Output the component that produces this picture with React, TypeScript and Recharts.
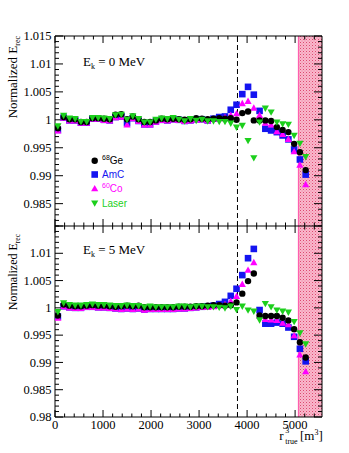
import { ScatterChart, Scatter, XAxis, YAxis, ReferenceLine, ReferenceArea } from 'recharts'

// bin centres in r^3 [m^3]
const binCenters = [
  60, 180, 300, 420, 540, 660, 780, 900, 1020, 1140,
  1260, 1380, 1500, 1620, 1740, 1860, 1980, 2100, 2220, 2340,
  2460, 2580, 2700, 2820, 2940, 3060, 3180, 3300, 3420, 3540,
  3660, 3780, 3900, 4020, 4140, 4260, 4380, 4500, 4620, 4740,
  4860, 4980, 5100, 5220,
]

// Ek = 0 MeV
const ge0 = [
  0.9985, 1.0005, 1.0001, 1.0001, 0.9996, 0.9996, 1.0003, 1.0003, 1.0002, 1.0001,
  1.0009, 1.001, 1.0001, 1.0006, 1.0001, 0.9996, 0.9996, 0.9999, 1.0002, 1.0001,
  1.0002, 1.0001, 1.0, 1.0001, 1.0003, 1.0002, 1.0001, 1.0002, 1.0003, 1.0002,
  1.0003, 1.0, 1.0012, 1.0015, 0.9999, 0.9999, 0.9999, 0.9998, 0.9987, 0.9982,
  0.9978, 0.9957, 0.9942, 0.991,
]
const amc0 = [
  0.9982, 1.0004, 0.9999, 0.9999, 0.9995, 0.9995, 1.0002, 1.0002, 1.0, 0.9999,
  1.0005, 1.0006, 0.9994, 1.0003, 0.9998, 0.9992, 0.9992, 0.9997, 1.0, 0.9999,
  1.0001, 1.0, 0.9998, 0.9999, 1.0001, 1.0001, 0.9999, 1.0002, 1.0005, 1.0006,
  1.0018, 1.0027, 1.0046, 1.0059, 1.0045, 1.0016, 0.9984, 0.9981, 0.9978, 0.9972,
  0.9965, 0.9947, 0.9929, 0.9902,
]
const co0 = [
  0.998, 1.0003, 0.9998, 0.9998, 0.9994, 0.9994, 1.0001, 1.0001, 0.9999, 0.9998,
  1.0004, 1.0005, 0.9991, 1.0002, 0.9997, 0.9991, 0.9991, 0.9996, 0.9999, 0.9998,
  1.0, 0.9999, 0.9997, 0.9998, 1.0, 1.0, 0.9998, 1.0001, 1.0002, 1.0004,
  1.0008, 1.0011, 1.0029, 1.0033, 1.0021, 1.0008, 0.9994, 0.9991, 0.9979, 0.9974,
  0.9965, 0.9943, 0.9919, 0.9884,
]
const laser0 = [
  0.9989, 1.0008, 1.0003, 1.0002, 0.9997, 0.9997, 1.0004, 1.0004, 1.0003, 1.0002,
  1.0009, 1.001, 1.0001, 1.0007, 1.0002, 0.9996, 0.9996, 1.0001, 1.0003, 1.0002,
  1.0004, 1.0001, 0.9998, 1.0002, 0.9999, 1.0001, 0.9998, 0.9998, 0.9997, 0.9997,
  0.9994, 0.9987, 0.999, 0.9963, 0.9932, 0.9996, 1.0021, 1.0014, 0.9996, 0.9993,
  0.9992, 0.9972, 0.9958, 0.9934,
]

// Ek = 5 MeV
const ge5 = [
  0.9986, 1.0006, 1.0004, 1.0003, 1.0003, 1.0004, 1.0005, 1.0004, 1.0004, 1.0003,
  1.0002, 1.0003, 1.0004, 1.0003, 1.0004, 1.0001, 1.0001, 1.0001, 1.0001, 1.0001,
  1.0001, 1.0002, 1.0002, 1.0002, 1.0003, 1.0003, 1.0004, 1.0005, 1.0005, 1.0004,
  1.0005, 1.001, 1.0026, 1.0049, 1.0063, 0.9986, 0.9985, 0.9985, 0.9985, 0.9982,
  0.9977, 0.9961, 0.9937, 0.9909,
]
const amc5 = [
  0.9984, 1.0003, 1.0001, 1.0, 1.0, 1.0002, 1.0002, 1.0001, 1.0001, 1.0,
  0.9999, 0.9998, 0.9999, 0.9998, 0.9999, 0.9997, 0.9998, 0.9998, 0.9998, 0.9998,
  0.9998, 0.9999, 0.9999, 1.0, 1.0001, 1.0002, 1.0003, 1.0004, 1.0007, 1.0011,
  1.0022, 1.0035, 1.006, 1.0091, 1.0108, 0.9996, 0.9971, 0.9971, 0.9973, 0.9971,
  0.9964, 0.9947, 0.9925, 0.9902,
]
const co5 = [
  0.9981, 1.0002, 1.0, 0.9999, 0.9999, 1.0001, 1.0001, 1.0, 1.0, 0.9999,
  0.9998, 0.9997, 0.9998, 0.9997, 0.9998, 0.9996, 0.9997, 0.9997, 0.9997, 0.9997,
  0.9997, 0.9998, 0.9998, 0.9999, 1.0, 1.0001, 1.0001, 1.0002, 1.0004, 1.0006,
  1.0012, 1.0021, 1.0043, 1.0069, 1.0083, 0.9985, 0.9979, 0.9978, 0.9977, 0.9972,
  0.9969, 0.9949, 0.9914, 0.9883,
]
const laser5 = [
  0.9993, 1.0009, 1.0006, 1.0005, 1.0005, 1.0006, 1.0007, 1.0006, 1.0006, 1.0005,
  1.0004, 1.0004, 1.0005, 1.0004, 1.0004, 1.0002, 1.0003, 1.0002, 1.0002, 1.0002,
  1.0002, 1.0003, 1.0003, 1.0002, 1.0003, 1.0003, 1.0002, 1.0002, 1.0001, 1.0,
  1.0003, 0.9997, 1.0003, 0.9996, 0.9994, 0.9978, 1.0008, 1.0002, 0.9996, 0.9994,
  0.9992, 0.9975, 0.9954, 0.9934,
]

const xLabels = [0, 1000, 2000, 3000, 4000, 5000]
const yLabelsTop = [0.985, 0.99, 0.995, 1, 1.005, 1.01, 1.015]
const yLabelsBottom = [0.98, 0.985, 0.99, 0.995, 1, 1.005, 1.01]

const X_MAX = 5560
const Y_MAX = 1.015
const FV_START = 5070
const FV_CUT = 3800

const CHART_W = 349
const MARGIN_L = 5
const MARGIN_R = 27
const Y_AXIS_W = 50
const PLOT_W = CHART_W - MARGIN_L - MARGIN_R - Y_AXIS_W

const GE_COLOR = '#000000'
const AMC_COLOR = '#1414f0'
const CO_COLOR = '#ff00ff'
const LASER_COLOR = '#1ccf1c'
const SERIF = '"Liberation Serif", "Times New Roman", serif'
const SANS = '"Liberation Sans", Arial, sans-serif'

const xTicks = Array.from({ length: 28 }, (_, k) => k * 200)
const yTicksFrom = (lo: number) =>
  Array.from({ length: Math.round((Y_MAX - lo) * 1000) + 1 }, (_, k) => Math.round((lo + k * 0.001) * 10000) / 10000)
const isMajorY = (v: number) => Math.abs(v * 200 - Math.round(v * 200)) < 1e-6

const toPoints = (vals: number[]) => binCenters.map((x, i) => ({ x, y: vals[i] }))

const circleShape = (p: any) => <circle cx={p.cx} cy={p.cy} r={3.2} fill={GE_COLOR} />
const squareShape = (p: any) => <rect x={p.cx - 3.3} y={p.cy - 3.3} width={6.6} height={6.6} fill={AMC_COLOR} />
const upShape = (p: any) => (
  <polygon points={`${p.cx},${p.cy - 3.8} ${p.cx + 3.6},${p.cy + 2.6} ${p.cx - 3.6},${p.cy + 2.6}`} fill={CO_COLOR} />
)
const downShape = (p: any) => (
  <polygon points={`${p.cx},${p.cy + 3.8} ${p.cx + 3.6},${p.cy - 2.6} ${p.cx - 3.6},${p.cy - 2.6}`} fill={LASER_COLOR} />
)

const xLabelTick = (withLabels: boolean) => (props: any) => {
  const { x, y, payload } = props
  const v = payload.value
  if (!withLabels || !xLabels.includes(v)) return <g />
  return (
    <text x={x} y={y + 12} textAnchor="middle" fontFamily={SERIF} fontSize={12.5} fill="#000">
      {v}
    </text>
  )
}

const yLabelTick = (labels: number[]) => (props: any) => {
  const { x, y, payload } = props
  const v = payload.value
  if (!labels.some((l) => Math.abs(l - v) < 1e-6)) return <g />
  return (
    <text x={x - 3.5} y={y + 4.2} textAnchor="end" fontFamily={SERIF} fontSize={12.5} fill="#000">
      {String(v)}
    </text>
  )
}

interface PanelProps {
  id: string
  ge: number[]
  amc: number[]
  co: number[]
  laser: number[]
  yLo: number
  yLabels: number[]
  showX: boolean
  height: number
  marginTop: number
  marginBottom: number
}

function Panel({ id, ge, amc, co, laser, yLo, yLabels, showX, height, marginTop, marginBottom }: PanelProps) {
  const yTicks = yTicksFrom(yLo)
  const xAxisH = showX ? 30 : 0
  const plotH = height - marginTop - marginBottom - xAxisH
  const dxPx = X_MAX / PLOT_W
  const dyPx = (Y_MAX - yLo) / plotH

  // inward tick marks on all four sides of the frame
  const tickMarks: { key: string; seg: { x: number; y: number }[] }[] = []
  xTicks.forEach((v) => {
    const len = (v % 1000 === 0 ? 7 : 3.5) * dyPx
    tickMarks.push({ key: `xb${v}`, seg: [{ x: v, y: yLo }, { x: v, y: yLo + len }] })
    tickMarks.push({ key: `xt${v}`, seg: [{ x: v, y: Y_MAX }, { x: v, y: Y_MAX - len }] })
  })
  yTicks.forEach((v) => {
    const len = (isMajorY(v) ? 8 : 4) * dxPx
    tickMarks.push({ key: `yl${v}`, seg: [{ x: 0, y: v }, { x: len, y: v }] })
    tickMarks.push({ key: `yr${v}`, seg: [{ x: X_MAX, y: v }, { x: X_MAX - len, y: v }] })
  })

  return (
    <ScatterChart
      width={CHART_W}
      height={height}
      margin={{ top: marginTop, right: MARGIN_R, bottom: marginBottom, left: MARGIN_L }}
    >
      <defs>
        <pattern id={id} width={3} height={3} patternUnits="userSpaceOnUse">
          <rect width={3} height={3} fill="rgba(246,140,172,0.62)" />
          <rect width={1} height={1} fill="rgba(215,45,90,0.8)" />
          <rect x={1.5} y={1.5} width={1} height={1} fill="rgba(228,85,125,0.6)" />
        </pattern>
      </defs>
      <XAxis
        type="number"
        dataKey="x"
        domain={[0, X_MAX]}
        allowDataOverflow
        ticks={xTicks}
        interval={0}
        tickSize={0}
        tickMargin={0}
        tickLine={false}
        axisLine={{ stroke: '#000' }}
        height={xAxisH}
        tick={xLabelTick(showX)}
      />
      <YAxis
        type="number"
        dataKey="y"
        domain={[yLo, Y_MAX]}
        allowDataOverflow
        ticks={yTicks}
        interval={0}
        tickSize={0}
        tickMargin={0}
        tickLine={false}
        axisLine={{ stroke: '#000' }}
        width={Y_AXIS_W}
        tick={yLabelTick(yLabels)}
      />
      <ReferenceLine x={FV_CUT} stroke="#000" strokeDasharray="5 3" />
      <Scatter data={toPoints(amc)} shape={squareShape} isAnimationActive={false} />
      <Scatter data={toPoints(co)} shape={upShape} isAnimationActive={false} />
      <Scatter data={toPoints(ge)} shape={circleShape} isAnimationActive={false} />
      <Scatter data={toPoints(laser)} shape={downShape} isAnimationActive={false} />
      <ReferenceArea x1={FV_START} x2={X_MAX} fill={`url(#${id})`} fillOpacity={1} stroke="none" />
      <ReferenceLine x={FV_START} stroke="#ff5fae" strokeWidth={1.2} />
      <ReferenceLine y={Y_MAX} stroke="#000" />
      <ReferenceLine x={X_MAX} stroke="#000" />
      {tickMarks.map((t) => (
        <ReferenceLine key={t.key} segment={t.seg} stroke="#000" strokeWidth={1} />
      ))}
    </ScatterChart>
  )
}

function Overlay() {
  const legend = [
    { y: 160.7, color: GE_COLOR, sup: '68', name: 'Ge', marker: 'circle' },
    { y: 174.5, color: AMC_COLOR, sup: '', name: 'AmC', marker: 'square' },
    { y: 188.7, color: CO_COLOR, sup: '60', name: 'Co', marker: 'up' },
    { y: 203, color: LASER_COLOR, sup: '', name: 'Laser', marker: 'down' },
  ]
  return (
    <svg width={349} height={453} style={{ position: 'absolute', left: 0, top: 0, pointerEvents: 'none' }}>
      <text transform="translate(17,36) rotate(-90)" textAnchor="end" fontFamily={SERIF} fontSize={13} fill="#000">
        Normalized E<tspan fontSize={8} dy={3}>rec</tspan>
      </text>
      <text transform="translate(17,234) rotate(-90)" textAnchor="end" fontFamily={SERIF} fontSize={12} fill="#000">
        Normalized E<tspan fontSize={7.5} dy={3}>rec</tspan>
      </text>
      <text x={83} y={66} fontFamily={SERIF} fontSize={13} fill="#000">
        E<tspan fontSize={8} dy={3}>k</tspan>
        <tspan dy={-3}> = 0 MeV</tspan>
      </text>
      <text x={83} y={254} fontFamily={SERIF} fontSize={13} fill="#000">
        E<tspan fontSize={8} dy={3}>k</tspan>
        <tspan dy={-3}> = 5 MeV</tspan>
      </text>
      {legend.map((l) => (
        <g key={l.name}>
          {l.marker === 'circle' && circleShape({ cx: 94.7, cy: l.y })}
          {l.marker === 'square' && squareShape({ cx: 94.7, cy: l.y })}
          {l.marker === 'up' && upShape({ cx: 94.7, cy: l.y })}
          {l.marker === 'down' && downShape({ cx: 94.7, cy: l.y })}
          <text x={102} y={l.y + 3.6} fontFamily={SANS} fontSize={10} fill={l.color}>
            {l.sup && (
              <tspan fontSize={7} dy={-4}>
                {l.sup}
              </tspan>
            )}
            <tspan dy={l.sup ? 4 : 0}>{l.name}</tspan>
          </text>
        </g>
      ))}
      <text x={279.3} y={440} fontFamily={SERIF} fontSize={13} fill="#000">
        r<tspan x={285.2} dy={-6.8} fontSize={8}>3</tspan>
        <tspan x={285.2} dy={11} fontSize={8}>true</tspan>
        <tspan x={300} dy={-4.2}>[m</tspan>
        <tspan fontSize={8} dy={-5.5}>3</tspan>
        <tspan dy={5.5}>]</tspan>
      </text>
    </svg>
  )
}

export default function App() {
  return (
    <div style={{ position: 'absolute', left: 0, top: 0, width: 349, height: 453, background: '#fff' }}>
      <div style={{ position: 'absolute', left: 0, top: 0 }}>
        <Panel
          id="fvTop"
          ge={ge0}
          amc={amc0}
          co={co0}
          laser={laser0}
          yLo={0.981}
          yLabels={yLabelsTop}
          showX={false}
          height={230}
          marginTop={36}
          marginBottom={4}
        />
      </div>
      <div style={{ position: 'absolute', left: 0, top: 225 }}>
        <Panel
          id="fvBottom"
          ge={ge5}
          amc={amc5}
          co={co5}
          laser={laser5}
          yLo={0.98}
          yLabels={yLabelsBottom}
          showX={true}
          height={228}
          marginTop={1}
          marginBottom={6}
        />
      </div>
      <Overlay />
    </div>
  )
}
